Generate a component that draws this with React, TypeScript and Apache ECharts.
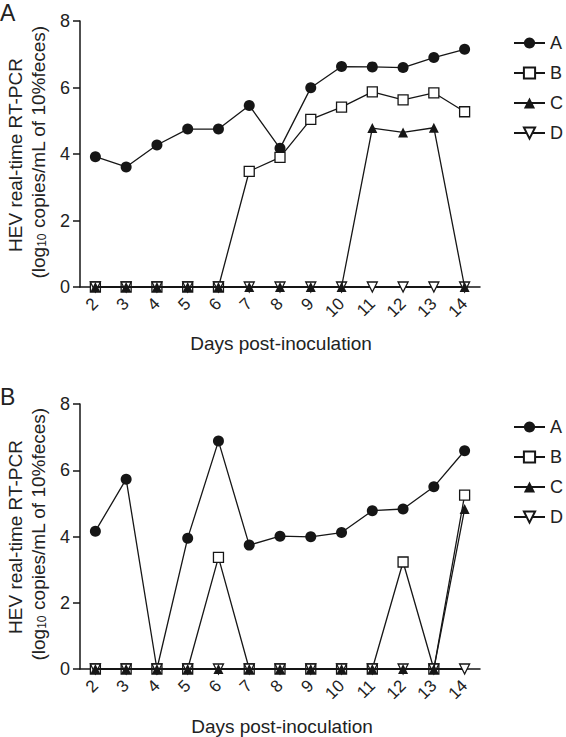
import React, { useEffect, useRef } from "react";
import * as echarts from "echarts";

const days = ["2", "3", "4", "5", "6", "7", "8", "9", "10", "11", "12", "13", "14"];
const seriesNames = ["A", "B", "C", "D"];

// Panel A
const panelA_A = [3.92, 3.61, 4.27, 4.75, 4.75, 5.46, 4.17, 5.99, 6.63, 6.62, 6.6, 6.9, 7.15];
const panelA_B = [0, 0, 0, 0, 0, 3.48, 3.9, 5.04, 5.41, 5.87, 5.63, 5.84, 5.27];
const panelA_C = [0, 0, 0, 0, 0, 0, 0, 0, 0, 4.78, 4.65, 4.79, 0];
const panelA_D = [0, 0, 0, 0, 0, 0, 0, 0, 0, 0, 0, 0, 0];

// Panel B
const panelB_A = [4.16, 5.73, 0, 3.95, 6.88, 3.74, 4.01, 3.99, 4.12, 4.78, 4.83, 5.5, 6.59];
const panelB_B = [0, 0, 0, 0, 3.37, 0, 0, 0, 0, 0, 3.23, 0, 5.25];
const panelB_C = [0, 0, 0, 0, 0, 0, 0, 0, 0, 0, 0, 0, 4.83];
const panelB_D = [0, 0, 0, 0, 0, 0, 0, 0, 0, 0, 0, 0, 0];

const yTicks = [0, 2, 4, 6, 8];

const FONT = "'Liberation Sans', Arial, sans-serif";
const INK = "#161616";
const TXT = "#222";

function makeSeries(idx: number, data: number[][]) {
  const base = { type: "line", xAxisIndex: idx, yAxisIndex: idx, clip: false };
  return [
    {
      ...base, name: seriesNames[0], data: data[0], symbol: "circle", symbolSize: 11, z: 2,
      itemStyle: { color: INK }, lineStyle: { color: INK, width: 1.3 },
    },
    {
      ...base, name: seriesNames[1], data: data[1], symbol: "rect", symbolSize: 10, z: 3,
      itemStyle: { color: "#fff", borderColor: INK, borderWidth: 1.3 }, lineStyle: { color: INK, width: 1.3 },
    },
    {
      ...base, name: seriesNames[2], data: data[2], symbol: "triangle", symbolSize: 10, z: 5,
      itemStyle: { color: INK }, lineStyle: { color: INK, width: 1.3 },
    },
    {
      ...base, name: seriesNames[3], data: data[3], symbol: "triangle", symbolRotate: 180, symbolSize: 10, z: 4,
      itemStyle: { color: "#fff", borderColor: INK, borderWidth: 1.3 }, lineStyle: { color: INK, width: 2.2 },
    },
  ];
}

function xAxisCfg(gridIndex: number) {
  return {
    type: "category", gridIndex, data: days, boundaryGap: true,
    axisLine: { lineStyle: { color: INK, width: 1.5 } },
    axisTick: { show: false },
    axisLabel: { rotate: 45, interval: 0, fontSize: 17, color: TXT, fontFamily: FONT, margin: 14 },
  };
}

function yAxisCfg(gridIndex: number) {
  return {
    type: "value", gridIndex, min: yTicks[0], max: yTicks[yTicks.length - 1], interval: 2,
    axisLine: { show: true, lineStyle: { color: INK, width: 1.5 } },
    axisTick: { show: true, length: 7, lineStyle: { color: INK, width: 1.5 } },
    axisLabel: { fontSize: 18, color: TXT, fontFamily: FONT, margin: 10 },
    splitLine: { show: false },
  };
}

function legendCfg(left: number, top: number) {
  return {
    orient: "vertical", left, top, itemWidth: 31, itemHeight: 14, itemGap: 10,
    data: seriesNames.map((n) => ({ name: n })), selectedMode: false,
    textStyle: { fontSize: 18, color: TXT, fontFamily: FONT, lineHeight: 20 },
  };
}

function yTitle(cx: number, cy: number) {
  return [
    {
      type: "text", x: cx, y: cy, rotation: Math.PI / 2,
      style: { text: "HEV real-time RT-PCR", fontSize: 19, fontFamily: FONT, fill: TXT, align: "center", verticalAlign: "middle" },
    },
    {
      type: "text", x: cx + 23, y: cy - 3, rotation: Math.PI / 2,
      style: {
        text: "{n|(log}{s|10}{n| copies/mL of 10%feces)}",
        fontFamily: FONT, fill: TXT, align: "center", verticalAlign: "middle",
        rich: {
          n: { fontSize: 19, fontFamily: FONT, fill: TXT },
          s: { fontSize: 12, fontFamily: FONT, fill: TXT, verticalAlign: "bottom", padding: [8, 0, 0, 0] },
        },
      },
    },
  ];
}

export default function App() {
  const ref = useRef<HTMLDivElement>(null);
  useEffect(() => {
    if (!ref.current) return;
    const chart = echarts.init(ref.current, undefined, { renderer: "svg" });
    chart.setOption({
      animation: false,
      backgroundColor: "#fff",
      grid: [
        { left: 80, top: 21, width: 400, height: 266 },
        { left: 80, top: 404, width: 400, height: 265 },
      ],
      xAxis: [xAxisCfg(0), xAxisCfg(1)],
      yAxis: [yAxisCfg(0), yAxisCfg(1)],
      legend: [legendCfg(508, 28), legendCfg(508, 412)],
      series: [
        ...makeSeries(0, [panelA_A, panelA_B, panelA_C, panelA_D]),
        ...makeSeries(1, [panelB_A, panelB_B, panelB_C, panelB_D]),
      ],
      graphic: [
        { type: "text", x: 0, y: 1, style: { text: "A", fontSize: 23, fontFamily: FONT, fill: TXT } },
        { type: "text", x: 0, y: 385, style: { text: "B", fontSize: 23, fontFamily: FONT, fill: TXT } },
        ...yTitle(15, 155),
        ...yTitle(15, 537),
        { type: "text", x: 281, y: 343, style: { text: "Days post-inoculation", fontSize: 19, fontFamily: FONT, fill: TXT, align: "center", verticalAlign: "middle" } },
        { type: "text", x: 282, y: 726, style: { text: "Days post-inoculation", fontSize: 19, fontFamily: FONT, fill: TXT, align: "center", verticalAlign: "middle" } },
      ],
    });
    return () => chart.dispose();
  }, []);
  return <div ref={ref} style={{ position: "fixed", left: 0, top: 0, width: 566, height: 737 }} />;
}
